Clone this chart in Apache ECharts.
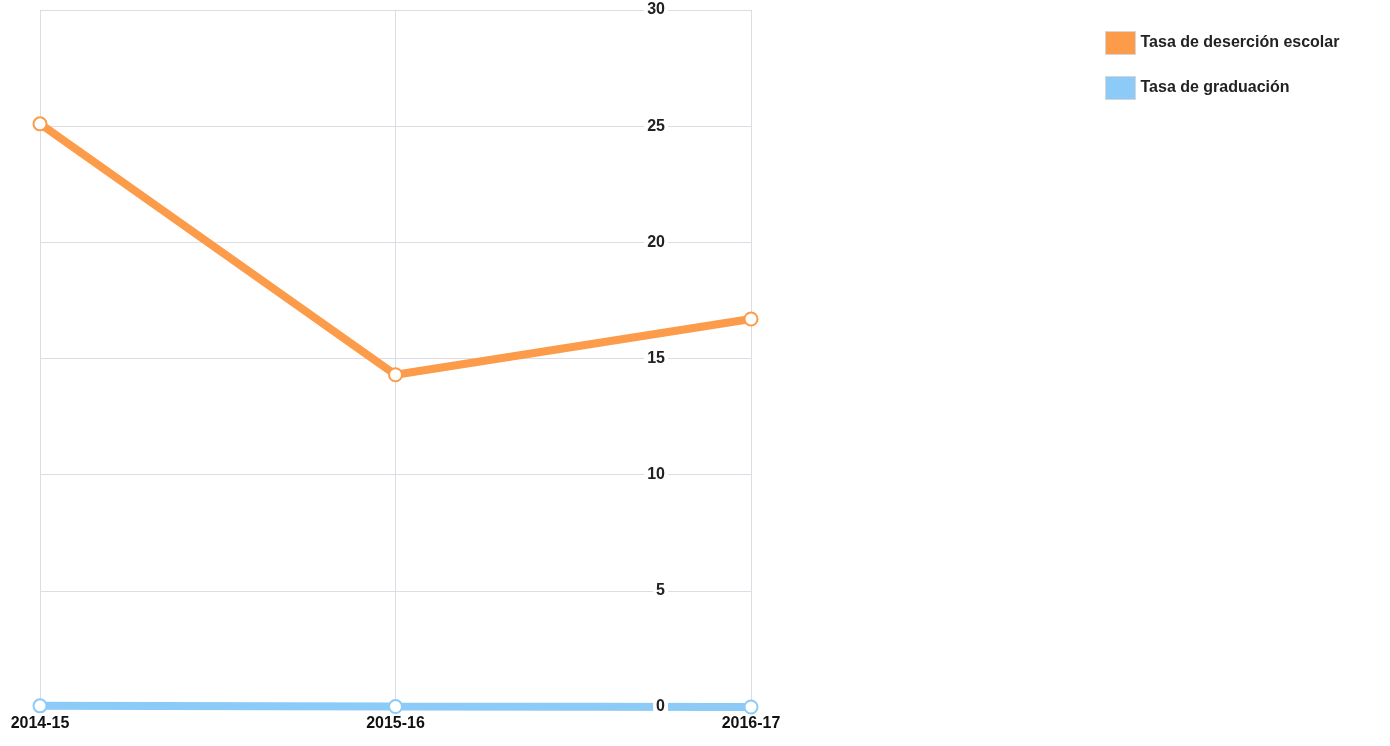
<!DOCTYPE html>
<html>
<head>
<meta charset="utf-8">
<script src="https://cdn.jsdelivr.net/npm/echarts@6/dist/echarts.min.js"></script>
<style>
  html, body { margin: 0; padding: 0; background: #fff; }
  #chart { width: 1390px; height: 746px; }
</style>
</head>
<body>
<div id="chart"></div>
<script>
const years = ['2014-15', '2015-16', '2016-17'];
const desercion = [25.1, 14.3, 16.7];
const graduacion = [0.05, 0.02, 0];
const yTicks = { min: 0, max: 30, interval: 5 };

const orange = '#fc9c4a';
const blue = '#8ccbf8';
const font = 'Liberation Sans, Arial, sans-serif';

const chart = echarts.init(document.getElementById('chart'), null, { renderer: 'canvas' });

chart.setOption({
  animation: false,
  legend: {
    orient: 'vertical',
    left: 1105,
    top: 31,
    padding: 0,
    itemWidth: 30,
    itemHeight: 23,
    itemGap: 21,
    icon: 'rect',
    textStyle: { fontFamily: font, fontSize: 16, fontWeight: 'bold', color: '#222' },
    data: [
      { name: 'Tasa de deserción escolar', itemStyle: { color: orange, borderColor: '#d6d6d6', borderWidth: 1 } },
      { name: 'Tasa de graduación', itemStyle: { color: blue, borderColor: '#d6d6d6', borderWidth: 1 } },
    ],
  },
  grid: { left: 40, right: 639, top: 10, bottom: 39 },
  xAxis: {
    type: 'category',
    data: years,
    boundaryGap: false,
    axisLine: { show: false },
    axisTick: { show: false },
    axisLabel: { fontFamily: font, fontSize: 16, fontWeight: 'bold', color: '#111', margin: 9 },
    splitLine: { show: true, lineStyle: { color: '#dcdce4', width: 1 } },
  },
  yAxis: [
    {
      // grid lines, under the series
      type: 'value',
      min: yTicks.min, max: yTicks.max, interval: yTicks.interval,
      axisLine: { show: false },
      axisTick: { show: false },
      axisLabel: { show: false },
      splitLine: { lineStyle: { color: '#dcdce4', width: 1 } },
    },
    {
      // labels only, drawn over the lines
      type: 'value',
      position: 'right',
      z: 10,
      min: yTicks.min, max: yTicks.max, interval: yTicks.interval,
      axisLine: { show: false },
      axisTick: { show: false },
      splitLine: { show: false },
      axisLabel: {
        inside: true,
        margin: 83,
        fontFamily: font, fontSize: 16, fontWeight: 'bold', color: '#222',
        backgroundColor: '#fff', padding: [0, 3, 0, 3],
      },
    },
  ],
  series: [
    {
      name: 'Tasa de deserción escolar',
      type: 'line',
      data: desercion,
      lineStyle: { width: 8, color: orange },
      symbol: 'emptyCircle',
      symbolSize: 13,
      itemStyle: { color: orange, borderWidth: 3 },
      z: 3,
    },
    {
      name: 'Tasa de graduación',
      type: 'line',
      data: graduacion,
      lineStyle: { width: 8, color: blue },
      symbol: 'emptyCircle',
      symbolSize: 13,
      clip: false,
      itemStyle: { color: blue, borderWidth: 3 },
      z: 2,
    },
  ],
});
</script>
</body>
</html>
